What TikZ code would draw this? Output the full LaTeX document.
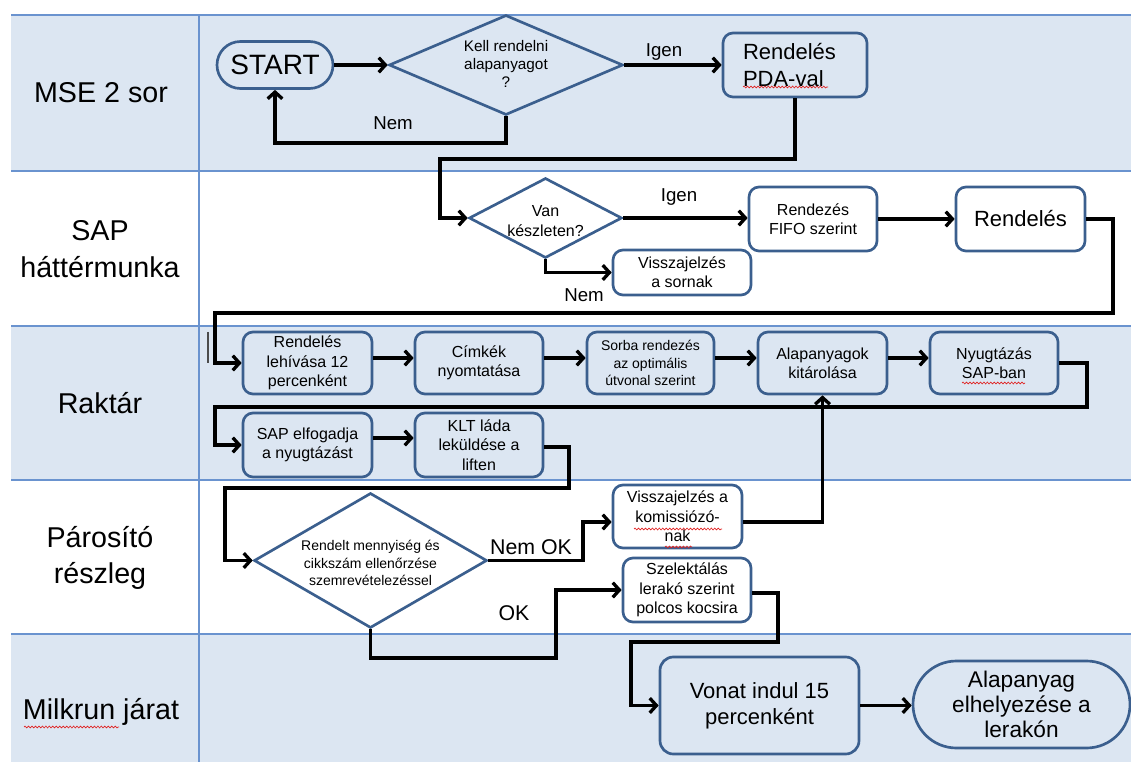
\documentclass[tikz,border=0pt]{standalone}
\usepackage{fontspec}
\setmainfont{Liberation Sans}
\usetikzlibrary{arrows.meta,shapes.geometric,decorations.pathmorphing,calc}

\definecolor{laneblue}{HTML}{DCE6F2}
\definecolor{laneline}{HTML}{6A93CF}
\definecolor{boxblue}{HTML}{3B5F8E}
\definecolor{spellred}{HTML}{E02020}

\newcommand\txtsize[2]{\fontsize{#1}{#2}\selectfont}

\begin{document}
\begin{tikzpicture}[
  x=0.75pt, y=-0.75pt,
  lanerule/.style={draw=laneline, line width=1.1pt},
  lanetext/.style={font=\txtsize{21.5}{27.5}, align=center},
  box/.style={draw=boxblue, line width=2pt, rounded corners=7.5pt,
              inner sep=0pt, align=center},
  stadium/.style={box},
  dia/.style={diamond, draw=boxblue, line width=2pt, inner sep=0pt},
  small/.style={font=\txtsize{12}{14.5}},
  tiny/.style={font=\txtsize{10.5}{13}},
  big/.style={font=\txtsize{16.5}{20}},
  lbl/.style={font=\txtsize{14}{16}},
  lblbig/.style={font=\txtsize{16}{18}},
  flow/.style={line width=2.5pt, draw=black,
               -{Straight Barb[length=5pt,width=11pt]}},
  spell/.style={draw=spellred, line width=0.5pt, decorate,
                decoration={snake, amplitude=0.7pt, segment length=2.6pt}}
]
\useasboundingbox (0,0) rectangle (1131,762);

% swim lanes
\fill[laneblue] (11,15) rectangle (1131,171);
\fill[laneblue] (11,326) rectangle (1131,480);
\fill[laneblue] (11,634) rectangle (1131,762);
\foreach \yy in {15,171,326,480,634}
  \draw[lanerule] (11,\yy) -- (1131,\yy);
\draw[lanerule] (199,15) -- (199,762);

% lane titles
\node[lanetext] (lane1) at (101,93) {MSE 2 sor};
\node[lanetext] (lane2) at (100,249) {SAP\\háttérmunka};
\node[lanetext] (lane3) at (100,403) {Raktár};
\node[lanetext] (lane4) at (100,558) {Párosító\\részleg};
\node[lanetext] (lane5) at (101,712) {Milkrun járat};
\draw[spell] (24,727) -- (119,727);

% ---- MSE 2 sor
\node[stadium, rounded corners=17.6pt, minimum width=87pt, minimum height=35.25pt,
      font=\txtsize{21}{25}] (start) at (275,65) {START};
\node[dia, minimum width=175.5pt, minimum height=75pt] (d1) at (506,65) {};
\node[font=\txtsize{11.5}{13.5}, align=center] (d1t) at (506,64)
  {Kell rendelni\\alapanyagot\\?};
\node[box, big, minimum width=108pt, minimum height=48pt, text width=78pt,
      align=left] (pda) at (795,65) {Rendelés\\PDA-val};
\draw[spell] (743,87) -- (828,87);
\node[lbl] (igen1) at (664,52) {Igen};
\node[lbl] (nem1) at (393,123) {Nem};

% ---- SAP háttérmunka
\node[dia, minimum width=114.75pt, minimum height=60pt] (d2) at (545.5,218) {};
\node[font=\txtsize{12}{15}, align=center] (d2t) at (545.5,221) {Van\\készleten?};
\node[box, small, minimum width=96pt, minimum height=48pt] (fifo) at (813,219)
  {Rendezés\\FIFO szerint};
\node[box, big, minimum width=96.75pt, minimum height=48pt] (rend2) at (1020.5,219)
  {Rendelés};
\node[box, small, minimum width=103.5pt, minimum height=33.75pt] (sornak) at (682,272.5)
  {Visszajelzés\\a sornak};
\node[lbl] (igen2) at (679,197) {Igen};
\node[lbl] (nem2) at (584,295) {Nem};

% ---- Raktár
\draw[gray!60!black, line width=0.8pt] (208,332) -- (208,363);
\node[box, small, minimum width=96.75pt, minimum height=46.5pt] (r1) at (307.5,363)
  {Rendelés\\lehívása 12\\percenként};
\node[box, small, minimum width=96pt, minimum height=46.5pt] (r2) at (479,363)
  {Címkék\\nyomtatása};
\node[box, tiny, minimum width=95.25pt, minimum height=46.5pt] (r3) at (650.5,363)
  {Sorba rendezés\\az optimális\\útvonal szerint};
\node[box, small, minimum width=96.75pt, minimum height=46.5pt] (r4) at (822.5,363)
  {Alapanyagok\\kitárolása};
\node[box, small, minimum width=96pt, minimum height=46.5pt] (r5) at (994,363)
  {Nyugtázás\\SAP-ban};
\draw[spell] (962,383) -- (1025,383);
\node[box, small, minimum width=96.75pt, minimum height=48pt] (r6) at (307.5,445)
  {SAP elfogadja\\a nyugtázást};
\node[box, small, minimum width=96pt, minimum height=48pt] (r7) at (479,445)
  {KLT láda\\leküldése a\\liften};

% ---- Párosító részleg
\node[dia, minimum width=174.75pt, minimum height=101.25pt] (d3) at (370.5,560.5) {};
\node[tiny, align=center] (d3t) at (370.5,563)
  {Rendelt mennyiség és\\cikkszám ellenőrzése\\szemrevételezéssel};
\node[box, small, minimum width=96.75pt, minimum height=47.25pt]
  (kom) at (677.5,516.5) {Visszajelzés a\\komissiózó-\\nak};
\draw[spell] (634,529) -- (722,529);
\draw[spell] (665,547) -- (692,547);
\node[box, small, minimum width=96pt, minimum height=48pt] (sel) at (687,590)
  {Szelektálás\\lerakó szerint\\polcos kocsira};
\node[lblbig] (nemok) at (531,547) {Nem OK};
\node[lblbig] (ok) at (514,613) {OK};

% ---- Milkrun járat
\node[box, font=\txtsize{16.5}{19.5}, rounded corners=10pt, minimum width=149.25pt,
      minimum height=72.75pt] (vonat) at (759.5,705.5) {Vonat indul 15\\percenként};
\node[stadium, font=\txtsize{17}{19}, rounded corners=32.6pt, minimum width=162.75pt,
      minimum height=65.25pt] (alap) at (1021.5,704.5)
  {Alapanyag\\elhelyezése a\\lerakón};

% ---- connectors
\draw[flow] (start.east) -- (d1.west);
\draw[flow] (d1.east) -- (pda.west);
\draw[flow] (d1.south) -- (506,143) -| (start.south);
\draw[flow] (pda.south) |- (440,159) |- (d2.west);
\draw[flow] (d2.east) -- (d2.east -| fifo.west);
\draw[flow] (fifo.east) -- (rend2.west);
\draw[flow] (d2.south) |- (sornak.west);
\draw[flow] (rend2.east) -| (1113,313) -- (215,313) |- (r1.west);
\draw[flow] ([yshift=3.75pt]r1.east) -- ([yshift=3.75pt]r2.west);
\draw[flow] ([yshift=3.75pt]r2.east) -- ([yshift=3.75pt]r3.west);
\draw[flow] ([yshift=3.75pt]r3.east) -- ([yshift=3.75pt]r4.west);
\draw[flow] ([yshift=3.75pt]r4.east) -- ([yshift=3.75pt]r5.west);
\draw[flow] (r5.east) -| (1087,407) -- (215,407) |- (r6.west);
\draw[flow] ([yshift=5.25pt]r6.east) -- ([yshift=5.25pt]r7.west);
\draw[flow] ($(r7.east)+(0,2)$) -| (569,488) -- (225,488) |- (d3.west);
\draw[flow] (d3.east) -| (583,522) -- ($(kom.west)+(0,5.5)$);
\draw[flow] ($(kom.east)+(0,5.5)$) -| (r4.south);
\draw[flow] (d3.south) |- (556,658) |- (sel.west);
\draw[flow] ($(sel.east)+(0,3)$) -| (778,642) -- (631,642) |- (vonat.west);
\draw[flow] (vonat.east) -- (vonat.east -| alap.west);

\end{tikzpicture}
\end{document}
